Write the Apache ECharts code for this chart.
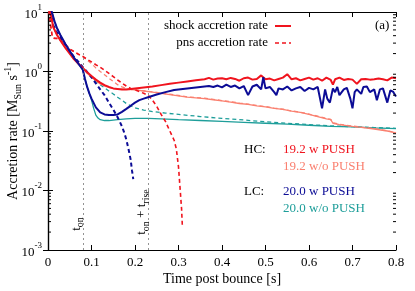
<!DOCTYPE html>
<html><head><meta charset="utf-8">
<script src="https://cdn.jsdelivr.net/npm/echarts@6/dist/echarts.min.js"></script>
<style>html,body{margin:0;padding:0;background:#fff}#c{width:415px;height:291px}</style>
</head><body><div id="c"></div>
<script>
const FONT = '"Liberation Serif","DejaVu Serif","Times New Roman",serif';
const xTicks = [0, 0.1, 0.2, 0.3, 0.4, 0.5, 0.6, 0.7, 0.8];
const yTickExps = [-3, -2, -1, 0, 1];
const yMinorTicks = [2e-3,3e-3,4e-3,5e-3,6e-3,7e-3,8e-3,9e-3,2e-2,3e-2,4e-2,5e-2,6e-2,7e-2,8e-2,9e-2,0.2,0.3,0.4,0.5,0.6,0.7,0.8,0.9,2,3,4,5,6,7,8,9];
const tOn = 0.08;
const tOnRise = 0.23;
const xTitle = 'Time post bounce [s]';
const yTitle = 'Accretion rate [M{sub|Sun} s{sup|-1}]';

// 19.2 w PUSH, shock accretion (red solid)
const redShock = [[0.004,10.5],[0.008,8],[0.012,5.6],[0.02,4.2],[0.03,3.2],[0.04,2.5],[0.05,2.0],[0.06,1.6],[0.07,1.35],[0.08,1.15],[0.09,0.97],[0.1,0.84],[0.11,0.73],[0.12,0.65],[0.13,0.59],[0.14,0.55],[0.15,0.52],[0.16,0.51],[0.17,0.5],[0.18,0.5],[0.19,0.51],[0.2,0.52],[0.22,0.54],[0.24,0.56],[0.26,0.59],[0.28,0.62],[0.3,0.65],[0.32,0.68],[0.34,0.71],[0.36,0.74],[0.37,0.78],[0.38,0.73],[0.39,0.76],[0.4,0.77],[0.41,0.74],[0.42,0.78],[0.43,0.75],[0.44,0.7],[0.45,0.77],[0.46,0.79],[0.47,0.73],[0.48,0.75],[0.49,0.86],[0.5,0.74],[0.51,0.76],[0.52,0.71],[0.53,0.75],[0.54,0.79],[0.55,0.9],[0.56,0.74],[0.57,0.77],[0.58,0.71],[0.59,0.75],[0.6,0.79],[0.61,0.73],[0.62,0.77],[0.63,0.7],[0.64,0.79],[0.65,0.72],[0.655,0.6],[0.66,0.74],[0.67,0.79],[0.68,0.72],[0.69,0.75],[0.7,0.73],[0.71,0.62],[0.72,0.74],[0.73,0.75],[0.74,0.73],[0.75,0.74],[0.76,0.76],[0.77,0.74],[0.78,0.71],[0.79,0.79],[0.8,0.77]];
// 19.2 w PUSH, pns accretion (red dashed)
const redPns = [[0.002,10.5],[0.006,6],[0.01,3.8],[0.015,3.6],[0.02,3.6],[0.025,3.5],[0.03,3.3],[0.04,2.8],[0.05,2.4],[0.06,2.15],[0.07,1.95],[0.08,1.8],[0.09,1.6],[0.1,1.45],[0.11,1.3],[0.12,1.18],[0.13,1.05],[0.14,0.93],[0.15,0.82],[0.16,0.72],[0.17,0.64],[0.18,0.57],[0.19,0.52],[0.2,0.49],[0.21,0.46],[0.22,0.43],[0.23,0.4],[0.24,0.33],[0.25,0.26],[0.26,0.19],[0.27,0.145],[0.28,0.1],[0.29,0.07],[0.295,0.05],[0.3,0.025],[0.304,0.01],[0.307,0.005],[0.309,0.0024]];
// 19.2 w/o PUSH, shock accretion (salmon solid)
const salmonShock = [[0.004,10.5],[0.008,8],[0.012,5.6],[0.02,4.2],[0.03,3.2],[0.04,2.5],[0.05,2.0],[0.06,1.6],[0.07,1.35],[0.08,1.14],[0.09,0.93],[0.1,0.8],[0.11,0.7],[0.12,0.62],[0.13,0.57],[0.14,0.54],[0.15,0.52],[0.16,0.51],[0.18,0.5],[0.2,0.49],[0.22,0.47],[0.24,0.45],[0.26,0.43],[0.28,0.41],[0.3,0.39],[0.32,0.37],[0.34,0.36],[0.36,0.35],[0.38,0.335],[0.4,0.32],[0.42,0.305],[0.44,0.29],[0.46,0.28],[0.48,0.265],[0.5,0.255],[0.52,0.24],[0.54,0.23],[0.56,0.215],[0.58,0.205],[0.6,0.19],[0.62,0.175],[0.64,0.16],[0.65,0.155],[0.655,0.135],[0.67,0.128],[0.7,0.12],[0.72,0.115],[0.75,0.108],[0.78,0.1],[0.8,0.093]];
// 19.2 w/o PUSH, pns accretion (salmon dashed)
const salmonPns = [[0.002,10.5],[0.006,6],[0.01,3.8],[0.015,3.6],[0.02,3.6],[0.025,3.5],[0.03,3.3],[0.04,2.8],[0.05,2.4],[0.06,2.15],[0.07,1.95],[0.08,1.78],[0.09,1.55],[0.1,1.35],[0.11,1.15],[0.12,1.0],[0.13,0.88],[0.14,0.77],[0.15,0.68],[0.16,0.6],[0.17,0.55],[0.18,0.52],[0.19,0.5],[0.2,0.49],[0.22,0.475],[0.24,0.455],[0.26,0.435],[0.28,0.415],[0.3,0.395],[0.32,0.375],[0.34,0.365],[0.36,0.355],[0.38,0.34],[0.4,0.325],[0.42,0.31],[0.44,0.295],[0.46,0.283],[0.48,0.268],[0.5,0.258],[0.52,0.243],[0.54,0.232],[0.56,0.218],[0.58,0.207],[0.6,0.192],[0.62,0.177],[0.64,0.162],[0.65,0.157],[0.655,0.137],[0.67,0.13],[0.7,0.121],[0.72,0.116],[0.75,0.109],[0.78,0.101],[0.8,0.094]];
// 20.0 w PUSH, shock accretion (navy solid)
const blueShock = [[0.008,10.5],[0.015,7],[0.02,5.5],[0.03,3.9],[0.04,2.9],[0.05,2.2],[0.06,1.7],[0.07,1.35],[0.08,1.07],[0.085,0.75],[0.09,0.55],[0.095,0.43],[0.1,0.35],[0.11,0.25],[0.12,0.205],[0.13,0.19],[0.14,0.185],[0.15,0.185],[0.16,0.19],[0.17,0.21],[0.18,0.235],[0.19,0.265],[0.2,0.3],[0.21,0.33],[0.22,0.35],[0.23,0.37],[0.25,0.41],[0.27,0.45],[0.29,0.49],[0.31,0.51],[0.33,0.53],[0.35,0.55],[0.37,0.57],[0.38,0.55],[0.39,0.58],[0.4,0.54],[0.41,0.6],[0.42,0.55],[0.43,0.58],[0.44,0.52],[0.45,0.57],[0.46,0.4],[0.47,0.56],[0.48,0.6],[0.49,0.5],[0.495,0.8],[0.5,0.52],[0.51,0.55],[0.52,0.45],[0.525,0.4],[0.53,0.52],[0.54,0.5],[0.55,0.56],[0.56,0.48],[0.57,0.52],[0.58,0.55],[0.59,0.47],[0.6,0.53],[0.61,0.5],[0.62,0.55],[0.63,0.24],[0.637,0.5],[0.642,0.35],[0.648,0.3],[0.655,0.52],[0.66,0.45],[0.665,0.55],[0.67,0.4],[0.68,0.5],[0.687,0.53],[0.695,0.35],[0.7,0.24],[0.705,0.45],[0.71,0.5],[0.72,0.42],[0.725,0.55],[0.733,0.56],[0.74,0.45],[0.75,0.5],[0.756,0.33],[0.763,0.5],[0.77,0.52],[0.78,0.3],[0.787,0.48],[0.793,0.46],[0.8,0.38]];
// 20.0 w PUSH, pns accretion (navy dashed)
const bluePns = [[0.006,10.5],[0.012,6],[0.02,4.6],[0.03,3.6],[0.04,2.8],[0.05,2.2],[0.06,1.75],[0.07,1.45],[0.08,1.18],[0.09,0.98],[0.1,0.8],[0.11,0.63],[0.12,0.5],[0.13,0.4],[0.14,0.3],[0.15,0.23],[0.16,0.17],[0.17,0.12],[0.175,0.095],[0.18,0.072],[0.185,0.05],[0.19,0.033],[0.193,0.022],[0.196,0.0155]];
// 20.0 w/o PUSH, shock accretion (teal solid)
const tealShock = [[0.008,10.5],[0.015,7],[0.02,5.5],[0.03,3.9],[0.04,2.9],[0.05,2.2],[0.06,1.7],[0.07,1.35],[0.08,1.07],[0.085,0.75],[0.09,0.55],[0.095,0.43],[0.1,0.33],[0.105,0.24],[0.11,0.185],[0.115,0.165],[0.12,0.155],[0.13,0.15],[0.14,0.15],[0.16,0.155],[0.18,0.16],[0.2,0.163],[0.23,0.163],[0.26,0.16],[0.3,0.155],[0.35,0.15],[0.4,0.145],[0.45,0.14],[0.5,0.135],[0.55,0.13],[0.6,0.125],[0.65,0.12],[0.7,0.117],[0.75,0.113],[0.8,0.11]];
// 20.0 w/o PUSH, pns accretion (teal dashed)
const tealPns = [[0.006,10.5],[0.012,6],[0.02,4.6],[0.03,3.6],[0.04,2.8],[0.05,2.2],[0.06,1.75],[0.07,1.45],[0.08,1.16],[0.09,0.97],[0.1,0.8],[0.11,0.68],[0.12,0.6],[0.13,0.53],[0.14,0.47],[0.15,0.42],[0.16,0.37],[0.17,0.33],[0.18,0.29],[0.2,0.245],[0.22,0.225],[0.24,0.212],[0.27,0.2],[0.3,0.19],[0.35,0.175],[0.4,0.163],[0.45,0.153],[0.5,0.143],[0.55,0.135],[0.6,0.128],[0.65,0.122],[0.7,0.118],[0.75,0.114],[0.8,0.111]];

const RED = '#f0141e', SALMON = '#fa8070', NAVY = '#0c0c96', TEAL = '#1e9e9a';
const DASH = [4, 3];

function line(data, color, width, dashed, z) {
  return { type: 'line', data: data, symbol: 'none', smooth: false, z: z,
    lineStyle: { color: color, width: width, type: dashed ? DASH : 'solid' }, silent: true };
}

const chart = echarts.init(document.getElementById('c'), null, { renderer: 'canvas' });
const axisLine = { show: true, lineStyle: { color: '#000', width: 1.2 } };
const option = {
  animation: false,
  backgroundColor: '#fff',
  grid: { left: 48, right: 19, top: 12, bottom: 41, containLabel: false, outerBoundsMode: 'none' },
  xAxis: [{
    type: 'value', min: 0, max: 0.8, interval: 0.1,
    axisLine: axisLine, splitLine: { show: false },
    axisTick: { inside: true, length: 5, lineStyle: { color: '#000' } },
    axisLabel: { fontFamily: FONT, fontSize: 13, color: '#000', margin: 6,
      formatter: v => (Math.abs(v) < 1e-9 ? '0' : v.toFixed(1)) }
  }, {
    type: 'value', min: 0, max: 0.8, interval: 0.1, position: 'top',
    axisLine: axisLine, splitLine: { show: false },
    axisTick: { inside: true, length: 5, lineStyle: { color: '#000' } },
    axisLabel: { show: false }
  }],
  yAxis: [{
    type: 'log', logBase: 10, min: 0.001, max: 10,
    axisLine: axisLine, splitLine: { show: false },
    axisTick: { inside: true, length: 5, lineStyle: { color: '#000' } },
    axisLabel: { fontFamily: FONT, color: '#000', margin: 6,
      formatter: v => '{b|10}{s|' + Math.round(Math.log10(v)) + '}',
      rich: { b: { fontFamily: FONT, fontSize: 13, color: '#000', lineHeight: 18, verticalAlign: 'bottom' },
              s: { fontFamily: FONT, fontSize: 9, color: '#000', lineHeight: 18, verticalAlign: 'top' } } }
  }, {
    type: 'log', logBase: 10, min: 0.001, max: 10, position: 'right',
    axisLine: axisLine, splitLine: { show: false },
    axisTick: { inside: true, length: 5, lineStyle: { color: '#000' } },
    axisLabel: { show: false }
  }],
  series: [
    line(tealShock, TEAL, 1.3, false, 2),
    line(tealPns, TEAL, 1.3, true, 2),
    line(salmonShock, SALMON, 1.3, false, 2),
    line(salmonPns, SALMON, 1.3, true, 2),
    line(redPns, RED, 1.6, true, 3),
    line(bluePns, NAVY, 2, true, 3),
    Object.assign(line(redShock, RED, 2, false, 4), {
      markLine: { silent: true, symbol: 'none', label: { show: false },
        lineStyle: { color: '#777', width: 0.8, type: [2, 3] },
        data: [{ xAxis: tOn }, { xAxis: tOnRise }] } }),
    line(blueShock, NAVY, 2, false, 4),
    {
      type: 'custom', silent: true, z: 5,
      data: yMinorTicks.map(v => [v]),
      renderItem: function (params, api) {
        const v = api.value(0);
        const l = api.coord([0, v]);
        const r = api.coord([0.8, v]);
        return { type: 'group', children: [
          { type: 'line', shape: { x1: l[0], y1: l[1], x2: l[0] + 3, y2: l[1] }, style: { stroke: '#000', lineWidth: 1 } },
          { type: 'line', shape: { x1: r[0], y1: r[1], x2: r[0] - 3, y2: r[1] }, style: { stroke: '#000', lineWidth: 1 } }
        ] };
      },
      encode: { y: 0 }
    }
  ]
};
chart.setOption(option);

const pOn = chart.convertToPixel({ gridIndex: 0 }, [tOn, 0.003]);
const pRise = chart.convertToPixel({ gridIndex: 0 }, [tOnRise, 0.003]);
const txt = (x, y, text, color, align) => ({ type: 'text', x: x, y: y, silent: true,
  style: { text: text, fill: color, font: '13px ' + FONT, textAlign: align || 'left', textVerticalAlign: 'middle' } });
const richSub = { sub: { fontFamily: FONT, fontSize: 10, verticalAlign: 'bottom', lineHeight: 18 } };
const richTitle = {
  sub: { fontFamily: FONT, fontSize: 10, fill: '#000', verticalAlign: 'bottom', lineHeight: 20 },
  sup: { fontFamily: FONT, fontSize: 10, fill: '#000', verticalAlign: 'top', lineHeight: 20 }
};
chart.setOption({
  graphic: [
    { type: 'text', silent: true, x: 222, y: 279,
      style: { text: xTitle, fill: '#000', font: '14px ' + FONT, textAlign: 'center', textVerticalAlign: 'middle' } },
    { type: 'text', silent: true, x: 13, y: 131, rotation: Math.PI / 2,
      style: { text: yTitle, rich: richTitle, fill: '#000', font: '14px ' + FONT, textAlign: 'center', textVerticalAlign: 'middle' } },
    txt(268, 26, 'shock accretion rate', '#000', 'right'),
    { type: 'line', silent: true, shape: { x1: 275, y1: 26, x2: 291, y2: 26 }, style: { stroke: RED, lineWidth: 2 } },
    txt(268, 43, 'pns accretion rate', '#000', 'right'),
    { type: 'line', silent: true, shape: { x1: 275, y1: 43, x2: 291, y2: 43 }, style: { stroke: RED, lineWidth: 1.6, lineDash: DASH } },
    txt(375, 26, '(a)', '#000'),
    txt(244, 150, 'HC:', '#000'),
    txt(283, 150, '19.2 w PUSH', RED),
    txt(283, 167, '19.2 w/o PUSH', SALMON),
    txt(244, 192, 'LC:', '#000'),
    txt(283, 192, '20.0 w PUSH', NAVY),
    txt(283, 209, '20.0 w/o PUSH', TEAL),
    { type: 'text', silent: true, x: pOn[0] - 6, y: 224, rotation: Math.PI / 2,
      style: { text: 't{sub|on}', rich: richSub, fill: '#000', font: '13px ' + FONT, textAlign: 'center', textVerticalAlign: 'middle' } },
    { type: 'text', silent: true, x: pRise[0] - 6, y: 212, rotation: Math.PI / 2,
      style: { text: 't{sub|on} + t{sub|rise}', rich: richSub, fill: '#000', font: '13px ' + FONT, textAlign: 'center', textVerticalAlign: 'middle' } }
  ]
});
</script>
</body></html>
